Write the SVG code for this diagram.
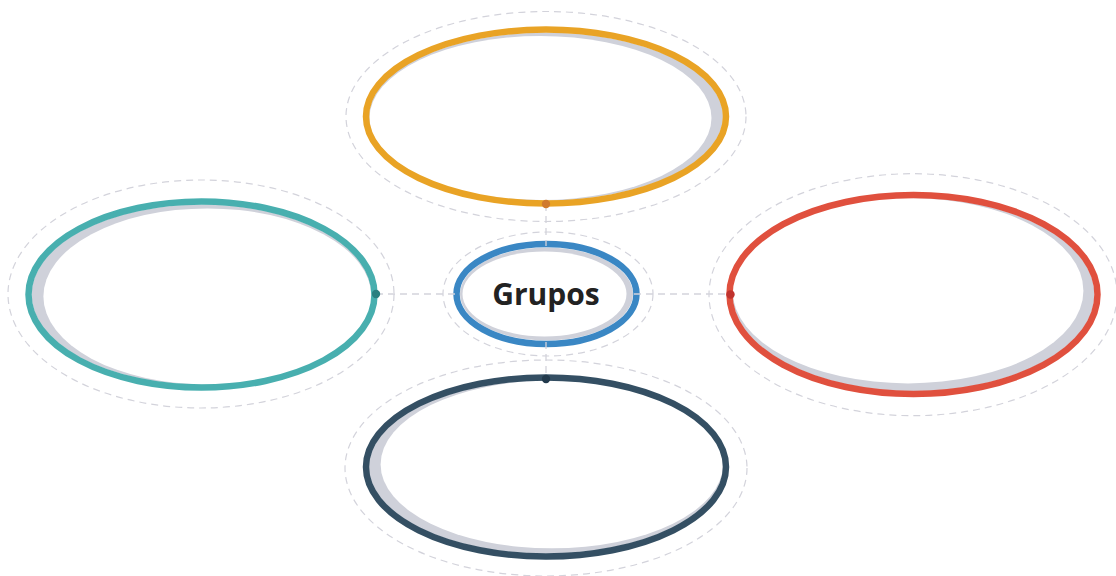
<svg xmlns="http://www.w3.org/2000/svg" width="1116" height="576" viewBox="0 0 1116 576">
<style>
.halo{fill:none;stroke:#d3d3db;stroke-width:1.2;stroke-dasharray:7 5}
.shade{fill:#cfd1da}
.inner{fill:#ffffff}
.ring{fill:none;stroke-width:6.5}
.conn{stroke:#d3d3db;stroke-width:1.3;stroke-dasharray:7 5;fill:none}
.label{font-family:"Open Sans","Liberation Sans",sans-serif;font-weight:bold;font-size:30px;fill:#222222;text-anchor:middle}
</style>
<rect width="1116" height="576" fill="#ffffff"/>
<g id="node-top">
<ellipse class="halo" cx="546" cy="116.5" rx="200" ry="105"/>
<ellipse class="shade" cx="546" cy="116.5" rx="177" ry="84"/>
<ellipse class="inner" cx="540.5" cy="118" rx="171" ry="82"/>
<ellipse class="ring" cx="546" cy="116.5" rx="180" ry="87" stroke="#e9a325"/>
</g>
<g id="node-left">
<ellipse class="halo" cx="201" cy="294" rx="193" ry="114"/>
<ellipse class="shade" cx="201.5" cy="294.5" rx="170" ry="90"/>
<ellipse class="inner" cx="207.4" cy="296.4" rx="164" ry="88"/>
<ellipse class="ring" cx="201.5" cy="294.5" rx="173" ry="93" stroke="#48afaf"/>
</g>
<g id="node-right">
<ellipse class="halo" cx="913" cy="294.7" rx="204" ry="121"/>
<ellipse class="shade" cx="913.5" cy="294.5" rx="181" ry="96.5"/>
<ellipse class="inner" cx="908" cy="290.7" rx="175.4" ry="92.7"/>
<ellipse class="ring" cx="913.5" cy="294.5" rx="184" ry="99.5" stroke="#e0503e"/>
</g>
<g id="node-bottom">
<ellipse class="halo" cx="546" cy="468" rx="201" ry="108"/>
<ellipse class="shade" cx="546" cy="467" rx="177" ry="86.5"/>
<ellipse class="inner" cx="551.8" cy="464.4" rx="171.2" ry="83.9"/>
<ellipse class="ring" cx="546" cy="467" rx="180" ry="89.5" stroke="#344f63"/>
</g>
<g id="node-center">
<ellipse class="halo" cx="548" cy="294" rx="105" ry="62"/>
<ellipse class="shade" cx="546.5" cy="294" rx="86.5" ry="46.5"/>
<ellipse class="inner" cx="544.5" cy="294" rx="82" ry="42.5"/>
<ellipse class="ring" cx="546.5" cy="294" rx="90" ry="50" stroke="#3a87c4" stroke-width="7"/>
<text class="label" x="546" y="305">Grupos</text>
</g>
<g id="connectors">
<line class="conn" x1="546" y1="204" x2="546" y2="246"/>
<line class="conn" x1="546" y1="342" x2="546" y2="379"/>
<line class="conn" x1="376" y1="294" x2="459" y2="294"/>
<line class="conn" x1="634" y1="294" x2="730.5" y2="294"/>
<circle cx="546" cy="204" r="4.2" fill="#d07a2e"/>
<circle cx="376" cy="294" r="4.2" fill="#2a8080"/>
<circle cx="730.5" cy="294.5" r="4.2" fill="#c0332e"/>
<circle cx="546" cy="379" r="4.2" fill="#223a4c"/>
</g>
</svg>
